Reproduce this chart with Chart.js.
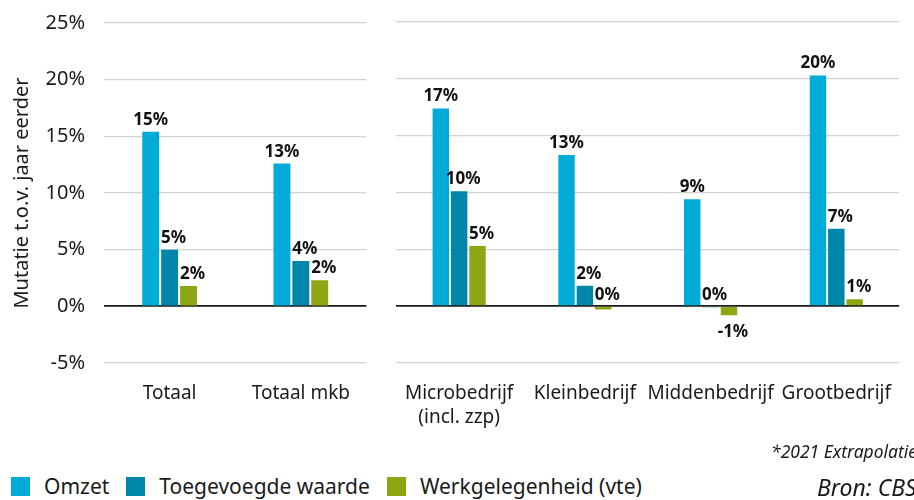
<!DOCTYPE html>
<html>
<head>
<meta charset="utf-8">
<script src="https://cdn.jsdelivr.net/npm/chart.js@4"></script>
<style>
  html, body { margin: 0; padding: 0; background: #fff; }
  #wrap { position: relative; width: 914px; height: 500px; overflow: hidden; font-family: "Noto Sans", sans-serif; color: #1a1a1a; }
  #leftBox { position: absolute; left: 0; top: -8px; width: 368px; height: 448px; }
  #rightBox { position: absolute; left: 388px; top: 0; width: 520px; height: 440px; }
  .legend { position: absolute; left: 11px; top: 474px; display: flex; align-items: center; font-size: 21px; line-height: 24px; white-space: nowrap; }
  .legend .item { display: flex; align-items: center; margin-right: 17px; }
  .legend .sw { width: 19px; height: 19px; margin-right: 14px; }
  .note { position: absolute; font-style: italic; white-space: nowrap; }
</style>
</head>
<body>
<div id="wrap">
  <div id="leftBox"><canvas id="leftChart"></canvas></div>
  <div id="rightBox"><canvas id="rightChart"></canvas></div>
  <div class="legend" id="legend"></div>
  <div class="note" style="left:771px; top:440px; font-size:17.5px; line-height:22px;">*2021 Extrapolatie</div>
  <div class="note" style="left:817px; top:474px; font-size:23px; line-height:26px;">Bron: CBS</div>
</div>
<script>
const groupsLeft = ["Totaal", "Totaal mkb"];
const groupsRight = [["Microbedrijf", "(incl. zzp)"], "Kleinbedrijf", "Middenbedrijf", "Grootbedrijf"];
const seriesNames = ["Omzet", "Toegevoegde waarde", "Werkgelegenheid (vte)"];
const seriesColors = ["#00abd8", "#0086a8", "#8da613"];

// Totaal, Totaal mkb, Micro, Klein, Midden, Groot
const omzet = [15.4, 12.6, 17.4, 13.3, 9.4, 20.3];
const toegevoegdeWaarde = [5.0, 4.0, 10.1, 1.8, -0.1, 6.8];
const werkgelegenheid = [1.8, 2.3, 5.3, -0.3, -0.8, 0.6];
const yTicks = [-5, 0, 5, 10, 15, 20, 25];

const allSeries = [omzet, toegevoegdeWaarde, werkgelegenheid];
const FONT = "'Noto Sans', sans-serif";
const INK = "#1a1a1a";

const valueLabels = {
  id: "valueLabels",
  afterDatasetsDraw(chart) {
    const { ctx } = chart;
    ctx.save();
    ctx.font = `bold 17px ${FONT}`;
    ctx.fillStyle = "#111";
    ctx.textAlign = "center";
    ctx.textBaseline = "alphabetic";
    chart.data.datasets.forEach((ds, di) => {
      chart.getDatasetMeta(di).data.forEach((bar, i) => {
        const rounded = Math.round(ds.data[i]);
        const text = `${rounded === 0 ? 0 : rounded}%`;
        const shift = di === 0 ? 0 : 4;
        const y = rounded < 0
          ? Math.max(bar.y, bar.base) + 22
          : Math.min(bar.y, bar.base) - 7;
        ctx.fillText(text, bar.x + shift, y);
      });
    });
    ctx.restore();
  },
};

function buildDatasets(from, to, catPct) {
  return allSeries.map((values, index) => ({
    label: seriesNames[index],
    data: values.slice(from, to),
    backgroundColor: seriesColors[index],
    borderWidth: 0,
    categoryPercentage: catPct,
    barPercentage: 0.895,
  }));
}

function yScale(showLabels) {
  return {
    min: -5,
    max: 25,
    afterBuildTicks(scale) {
      scale.ticks = yTicks.map((value) => ({ value }));
    },
    afterFit(scale) {
      scale.width = showLabels ? 98 : 0;
    },
    border: { display: false },
    grid: {
      drawTicks: false,
      color: (c) => (c.tick && c.tick.value === 0 ? INK : "#d2d2d2"),
      lineWidth: (c) => (c.tick && c.tick.value === 0 ? 1.7 : 1.3),
    },
    ticks: {
      display: showLabels,
      padding: 19,
      color: INK,
      font: { family: FONT, size: 20 },
      callback: (v) => `${v}%`,
    },
    title: {
      display: showLabels,
      text: "Mutatie t.o.v. jaar eerder",
      color: INK,
      font: { family: FONT, size: 20 },
    },
  };
}

function xScale() {
  return {
    afterFit(scale) {
      scale.height = 77;
    },
    border: { display: false },
    grid: { display: false, drawTicks: false },
    ticks: {
      padding: 18,
      color: INK,
      maxRotation: 0,
      autoSkip: false,
      font: { family: FONT, size: 19, lineHeight: 1.3 },
    },
  };
}

function makeChart(id, labels, from, to, catPct, showY, padLeft, padTop) {
  return new Chart(document.getElementById(id), {
    type: "bar",
    data: { labels, datasets: buildDatasets(from, to, catPct) },
    options: {
      responsive: true,
      maintainAspectRatio: false,
      animation: false,
      layout: { padding: { top: padTop, left: padLeft, right: 0, bottom: 0 } },
      plugins: { legend: { display: false }, tooltip: { enabled: false } },
      scales: { x: xScale(), y: yScale(showY) },
    },
    plugins: [valueLabels],
  });
}

makeChart("leftChart", groupsLeft, 0, 2, 0.432, true, 6, 14);
makeChart("rightChart", groupsRight, 2, 6, 0.438, false, 0, 22);

document.getElementById("legend").innerHTML = seriesNames
  .map((name, i) => `<span class="item"><span class="sw" style="background:${seriesColors[i]}"></span>${name}</span>`)
  .join("");
</script>
</body>
</html>
